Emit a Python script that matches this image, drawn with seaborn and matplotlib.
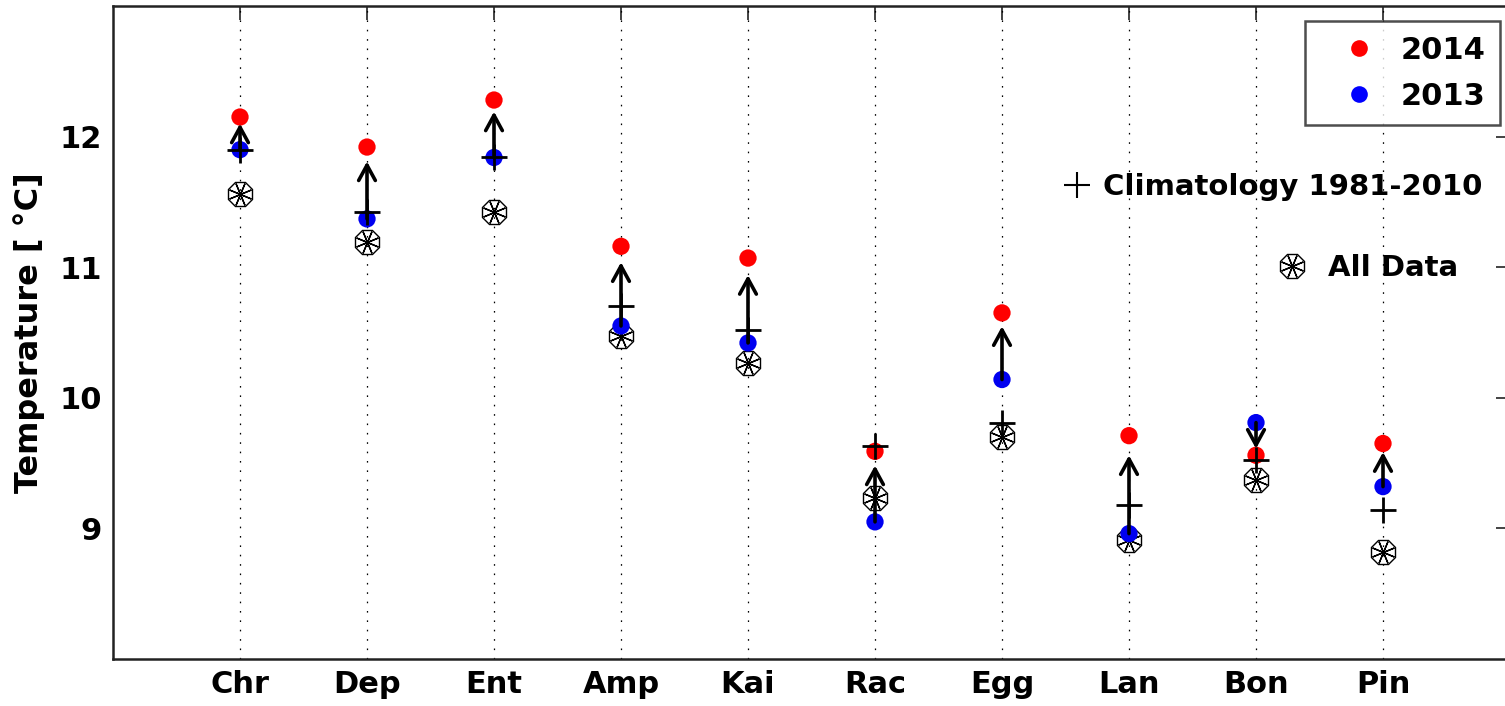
import matplotlib
matplotlib.use("Agg")
import matplotlib.pyplot as plt
from matplotlib.lines import Line2D
import seaborn as sns
import pandas as pd
import numpy as np

# ---- data ----
sites = ['Chr', 'Dep', 'Ent', 'Amp', 'Kai', 'Rac', 'Egg', 'Lan', 'Bon', 'Pin']
t2014 = [12.15, 11.92, 12.28, 11.16, 11.07, 9.59, 10.65, 9.71, 9.56, 9.65]
t2013 = [11.90, 11.37, 11.84, 10.55, 10.42, 9.05, 10.14, 8.96, 9.81, 9.32]
clim = [11.90, 11.42, 11.84, 10.70, 10.52, 9.63, 9.81, 9.18, 9.52, 9.14]
alldata = [11.56, 11.19, 11.42, 10.47, 10.27, 9.23, 9.70, 8.91, 9.37, 8.82]
yticks = [9, 10, 11, 12]
years = ['2014', '2013']

sns.set_style('white')
plt.rcParams['font.family'] = ['DejaVu Sans']
plt.rcParams['font.weight'] = 'bold'
for k in ['text.color', 'axes.labelcolor', 'xtick.color', 'ytick.color']:
    plt.rcParams[k] = 'black'
FS = 21

fig = plt.figure(figsize=(15.05, 7.06), dpi=100)
ax = fig.add_axes([113 / 1505, 1 - 659 / 706, 1397 / 1505, 653 / 706])

pos = np.arange(1, len(sites) + 1)

# dotted vertical guides
for x in pos:
    ax.axvline(x, color='k', lw=0.9, ls=(0, (1.3, 6.2)), zorder=1)

# all data: octagon with asterisk
ax.plot(pos, alldata, ls='none', marker='8', markersize=18.5, mfc='none',
        mec='k', mew=1.0, zorder=2)
ax.plot(pos, alldata, ls='none', marker=(8, 2, 22.5), markersize=17,
        mec='k', mew=1.0, zorder=2)

# yearly points via seaborn
df = pd.DataFrame({
    'pos': np.concatenate([pos, pos]),
    'temp': t2013 + t2014,
    'year': ['2013'] * len(sites) + ['2014'] * len(sites),
})
sns.scatterplot(data=df, x='pos', y='temp', hue='year',
                palette={'2014': '#ff0000', '2013': '#0000f0'},
                s=155, edgecolor='none', legend=False, ax=ax, zorder=3)

# climatology
ax.plot(pos, clim, ls='none', marker='+', markersize=19, mec='k', mew=2.0,
        zorder=4)

# arrows from 2013 to 2014 (quiver-like shortening)
for x, a, b in zip(pos, t2013, t2014):
    end = a + 0.8 * (b - a)
    ax.annotate('', xy=(x, end), xytext=(x, a),
                arrowprops=dict(arrowstyle='->,head_length=0.55,head_width=0.3',
                                lw=2.6, color='k', shrinkA=0, shrinkB=0,
                                mutation_scale=20), zorder=5)

ax.set_xlim(0, 11)
ax.set_ylim(8, 13)
ax.set_xticks(pos)
ax.set_xticklabels(sites, fontsize=FS + 1, fontweight='bold')
ax.set_yticks(yticks)
ax.set_yticklabels([str(v) for v in yticks], fontsize=FS + 1, fontweight='bold')
ax.set_xlabel('')
ax.set_ylabel('Temperature [ °C]', fontsize=23, fontweight='bold', labelpad=10)
ax.tick_params(direction='in', length=10, width=1.2, color='#222222',
               top=True, right=True, pad=8)
for s in ax.spines.values():
    s.set_linewidth(1.8)
    s.set_color('#222222')
ax.spines['right'].set_visible(False)

# legend for years
h_year = [Line2D([], [], ls='none', marker='o', markersize=12, mfc='#ff0000', mec='none'),
          Line2D([], [], ls='none', marker='o', markersize=12, mfc='#0000ff', mec='none')]
leg1 = ax.legend(h_year, years, loc='upper right', bbox_to_anchor=(0.9928, 0.977),
                 prop={'size': FS + 1, 'weight': 'bold'}, frameon=True, fancybox=False,
                 edgecolor='#222222', handlelength=2.6, handletextpad=0.05,
                 borderpad=0.48, labelspacing=0.56, borderaxespad=0)
leg1.get_frame().set_linewidth(1.8)
ax.add_artist(leg1)

# frameless annotations
h_clim = Line2D([], [], ls='none', marker='+', markersize=19, mec='k', mew=1.5)
leg2 = ax.legend([h_clim], ['Climatology 1981-2010'], loc='center left',
                 bbox_to_anchor=(0.6797, 0.7228), frameon=False,
                 prop={'size': FS, 'weight': 'bold'}, handlelength=1.0,
                 handletextpad=0.4, borderpad=0, borderaxespad=0)
ax.add_artist(leg2)

h_all = (Line2D([], [], ls='none', marker='8', markersize=18.5, mfc='none', mec='k', mew=1.0),
         Line2D([], [], ls='none', marker=(8, 2, 22.5), markersize=17, mec='k', mew=1.0))
leg3 = ax.legend([h_all], ['All Data'], loc='center left',
                 bbox_to_anchor=(0.8336, 0.5988), frameon=False,
                 prop={'size': FS, 'weight': 'bold'}, handlelength=1.0,
                 handletextpad=0.74, borderpad=0, borderaxespad=0)

fig.savefig('out.png', dpi=100)
